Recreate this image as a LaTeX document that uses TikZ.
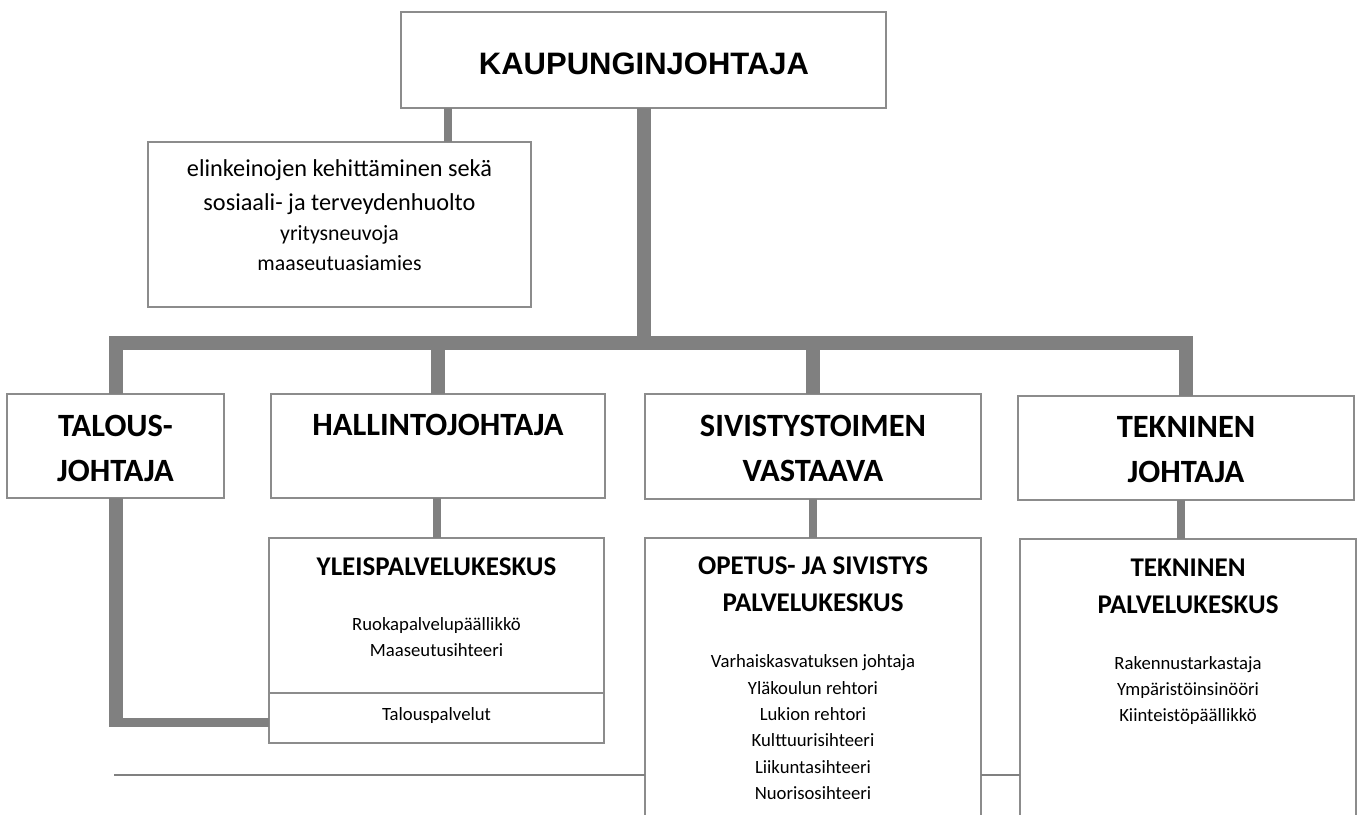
\documentclass[tikz,border=0pt]{standalone}
\usepackage{fontspec}
\setmainfont{Carlito}
\newfontfamily\arialfont{Liberation Sans}
\definecolor{boxgray}{RGB}{140,140,140}
\definecolor{conngray}{RGB}{128,128,128}
\begin{document}
\begin{tikzpicture}[x=1pt,y=-1pt,
  box/.style={draw=boxgray,line width=2pt,rectangle,inner sep=0pt,outer sep=0pt},
  conn/.style={draw=conngray,line width=14pt},
  thinconn/.style={draw=conngray,line width=8pt},
  rulel/.style={draw=conngray,line width=1.8pt},
  hd/.style={font=\fontsize{32.5}{38}\selectfont\bfseries,anchor=base,inner sep=0pt},
  sh/.style={font=\fontsize{27}{32}\selectfont\bfseries,anchor=base,inner sep=0pt},
  itm/.style={font=\fontsize{18.7}{22}\selectfont,anchor=base,inner sep=0pt},
  big/.style={font=\fontsize{24.3}{29}\selectfont,anchor=base,inner sep=0pt},
  mid/.style={font=\fontsize{21.8}{26}\selectfont,anchor=base,inner sep=0pt},
]
\useasboundingbox (0,0) rectangle (1357,814);
\clip (0,0) rectangle (1357,814);

% boxes
\node[box,minimum width=485pt,minimum height=96pt] (top) at (643.5,60) {};
\node[box,minimum width=383pt,minimum height=165pt] (elink) at (339.5,224.5) {};
\node[box,minimum width=217pt,minimum height=104pt] (talous) at (115.5,446) {};
\node[box,minimum width=334pt,minimum height=104pt] (hallinto) at (438,446) {};
\node[box,minimum width=336pt,minimum height=105pt] (sivistys) at (813,446.5) {};
\node[box,minimum width=336pt,minimum height=104pt] (tekninen) at (1186,448) {};
\node[box,minimum width=335pt,minimum height=155pt] (yleis) at (436.5,615.5) {};
\node[box,minimum width=335pt,minimum height=50pt] (talpal) at (436.5,718) {};
\node[box,minimum width=336pt,minimum height=292pt] (opetus) at (813,684) {};
\node[box,minimum width=336pt,minimum height=291pt] (tekpal) at (1188,684.5) {};

% helper coordinates
\coordinate (barc) at (0,343);
\coordinate (cel) at (448,0);
\coordinate (ctk) at (1181,0);
\coordinate (Lb) at (0,727);
\coordinate (Lh) at (109,722.5);
\coordinate (r1) at (114,775);

% thick connectors
\draw[conn,line join=miter] (talous.north) -- (talous.north |- barc) -- (tekninen.north |- barc) -- (tekninen.north);
\draw[conn] (top.south) -- (top.south |- barc);
\draw[conn] (hallinto.north) -- (hallinto.north |- barc);
\draw[conn] (sivistys.north) -- (sivistys.north |- barc);
\draw[conn] (talous.south) -- (talous.south |- Lb);
\draw[draw=conngray,line width=8.5pt] (Lh) -- (Lh -| talpal.west);

% thin connectors
\draw[thinconn] (top.south -| cel) -- (elink.north -| cel);
\draw[thinconn] (yleis.north |- hallinto.south) -- (yleis.north);
\draw[thinconn] (sivistys.south) -- (opetus.north |- sivistys.south) -- (opetus.north);
\draw[thinconn] (tekninen.south -| ctk) -- (tekpal.north -| ctk);

% bottom rules
\draw[rulel] (r1) -- (r1 -| opetus.west);
\draw[rulel] (opetus.east |- r1) -- (tekpal.west |- r1);

% texts
\node[font=\arialfont\fontsize{31}{37}\selectfont\bfseries,anchor=base,inner sep=0pt] (ttop) at (644,74) {KAUPUNGINJOHTAJA};

\node[big] (e1) at (339.5,176) {elinkeinojen kehittäminen sekä};
\node[big] (e2) at (339.5,210) {sosiaali- ja terveydenhuolto};
\node[mid] (e3) at (339.5,240) {yritysneuvoja};
\node[mid] (e4) at (339.5,270.5) {maaseutuasiamies};

\node[hd] (t1) at (115.5,436.7) {TALOUS-};
\node[hd] (t2) at (115.5,481.7) {JOHTAJA};
\node[hd] (h1) at (438,435) {HALLINTOJOHTAJA};
\node[hd] (s1) at (813,436.7) {SIVISTYSTOIMEN};
\node[hd] (s2) at (813,481.7) {VASTAAVA};
\node[hd] (k1) at (1186,437.3) {TEKNINEN};
\node[hd] (k2) at (1186,482) {JOHTAJA};

\node[sh] (y1) at (436.5,575) {YLEISPALVELUKESKUS};
\node[itm] (y2) at (436.5,630) {Ruokapalvelupäällikkö};
\node[itm] (y3) at (436.5,656.7) {Maaseutusihteeri};
\node[itm] (tp) at (436.5,720.7) {Talouspalvelut};

\node[sh] (o1) at (813,574) {OPETUS- JA SIVISTYS};
\node[sh] (o2) at (813,611.7) {PALVELUKESKUS};
\node[itm] (o3) at (813,667.5) {Varhaiskasvatuksen johtaja};
\node[itm] (o4) at (813,694) {Yläkoulun rehtori};
\node[itm] (o5) at (813,720) {Lukion rehtori};
\node[itm] (o6) at (813,746.7) {Kulttuurisihteeri};
\node[itm] (o7) at (813,773) {Liikuntasihteeri};
\node[itm] (o8) at (813,799) {Nuorisosihteeri};

\node[sh] (p1) at (1188,576) {TEKNINEN};
\node[sh] (p2) at (1188,613) {PALVELUKESKUS};
\node[itm] (p3) at (1188,669) {Rakennustarkastaja};
\node[itm] (p4) at (1188,695.5) {Ympäristöinsinööri};
\node[itm] (p5) at (1188,721.7) {Kiinteistöpäällikkö};
\end{tikzpicture}
\end{document}
